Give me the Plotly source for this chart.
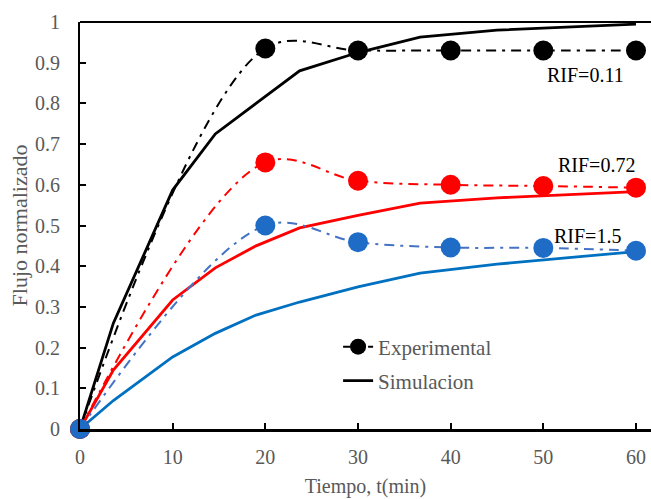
import plotly.graph_objects as go

# Experimental data
t_exp = [0, 20, 30, 40, 50, 60]
exp_011 = [0, 0.935, 0.93, 0.93, 0.93, 0.93]
exp_072 = [0, 0.655, 0.61, 0.60, 0.597, 0.593]
exp_15 = [0, 0.50, 0.459, 0.446, 0.445, 0.438]

# Simulation data
t_sim = [0, 3.6, 10, 14.6, 19, 23.7, 30, 36.7, 45, 60]
sim_011 = [0, 0.26, 0.587, 0.725, 0.80, 0.88, 0.925, 0.963, 0.98, 0.995]
sim_072 = [0, 0.145, 0.317, 0.396, 0.45, 0.494, 0.525, 0.555, 0.568, 0.583]
sim_15 = [0, 0.07, 0.177, 0.235, 0.28, 0.312, 0.349, 0.383, 0.405, 0.436]

labels = ["RIF=0.11", "RIF=0.72", "RIF=1.5"]
label_x = [54.5, 55.7, 54.8]
label_y = [0.87, 0.649, 0.474]

BLACK = "#000000"
RED = "#FF0000"
BLUE_LINE = "#4472C4"
BLUE_MARK = "#1E6CC6"
BLUE_SIM = "#0070C0"
GREY = "#595959"
FONT = "'Liberation Serif', 'Times New Roman', 'DejaVu Serif', serif"
DASH = "10px,6px,3px,6px"

fig = go.Figure()

# simulation lines
for y, c, show in [(sim_011, BLACK, True), (sim_072, RED, False), (sim_15, BLUE_SIM, False)]:
    fig.add_trace(go.Scatter(x=t_sim, y=y, mode="lines", line=dict(color=c, width=2.8),
                             name="Simulacion", showlegend=show, legend="legend2"))

# experimental
for y, lc, mc, show in [(exp_011, BLACK, BLACK, True), (exp_072, RED, RED, False), (exp_15, BLUE_LINE, BLUE_MARK, False)]:
    fig.add_trace(go.Scatter(x=t_exp, y=y, mode="lines+markers",
                             line=dict(color=lc, width=2, dash=DASH, shape="spline", smoothing=1.0),
                             marker=dict(color=mc, size=20),
                             name="Experimental", showlegend=show, legend="legend", cliponaxis=False))

for txt, x, y in zip(labels, label_x, label_y):
    fig.add_annotation(x=x, y=y, text=txt, showarrow=False,
                       font=dict(family=FONT, size=20, color=BLACK))

fig.add_shape(type="line", xref="paper", yref="paper", x0=0, x1=1, y0=1, y1=1,
              line=dict(color=BLACK, width=2))

leg_font = dict(family=FONT, size=21, color=GREY)
fig.update_layout(
    width=651, height=499,
    margin=dict(l=80, r=0, t=22, b=70),
    plot_bgcolor="white", paper_bgcolor="white",
    font=dict(family=FONT, size=20, color=GREY),
    legend=dict(x=0.452, y=0.2015, xanchor="left", yanchor="middle", bgcolor="rgba(0,0,0,0)",
                font=leg_font),
    legend2=dict(x=0.452, y=0.118, xanchor="left", yanchor="middle", bgcolor="rgba(0,0,0,0)",
                 font=leg_font),
    xaxis=dict(range=[0, 61.62], tickvals=[0, 10, 20, 30, 40, 50, 60], showgrid=False,
               zeroline=False, showline=True, linecolor=BLACK, linewidth=3,
               ticks="inside", ticklen=6, tickcolor=BLACK, tickwidth=1.5, automargin=False,
               ticklabelstandoff=8,
               title=dict(text="Tiempo, t(min)", font=dict(family=FONT, size=20, color=GREY), standoff=12),
               tickfont=dict(family=FONT, size=20, color=GREY)),
    yaxis=dict(range=[0, 1], tickvals=[0, 0.1, 0.2, 0.3, 0.4, 0.5, 0.6, 0.7, 0.8, 0.9, 1],
               showgrid=False, zeroline=False, showline=True, linecolor=BLACK, linewidth=2,
               ticks="inside", ticklen=6, tickcolor=BLACK, tickwidth=1.5, automargin=False,
               ticklabelstandoff=14,
               title=dict(text="Flujo normalizado", font=dict(family=FONT, size=22, color=GREY), standoff=1),
               tickfont=dict(family=FONT, size=20, color=GREY)),
)

fig.write_html("out.html", config={"displayModeBar": False},
               post_script="document.body.style.margin='0';document.body.style.overflow='hidden';")
